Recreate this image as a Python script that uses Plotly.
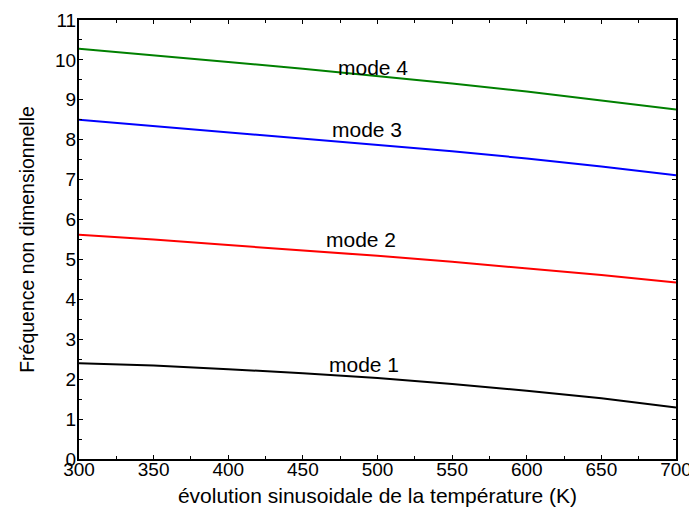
import plotly.graph_objects as go

temperature = [300, 350, 400, 450, 500, 550, 600, 650, 700]
mode1 = [2.40, 2.34, 2.25, 2.15, 2.03, 1.88, 1.71, 1.52, 1.29]
mode2 = [5.62, 5.50, 5.36, 5.23, 5.09, 4.94, 4.78, 4.61, 4.42]
mode3 = [8.50, 8.34, 8.18, 8.02, 7.87, 7.71, 7.53, 7.33, 7.11]
mode4 = [10.28, 10.12, 9.95, 9.78, 9.60, 9.41, 9.21, 8.99, 8.76]

x_ticks = [300, 350, 400, 450, 500, 550, 600, 650, 700]
y_ticks = [0, 1, 2, 3, 4, 5, 6, 7, 8, 9, 10, 11]

series_names = ["mode 1", "mode 2", "mode 3", "mode 4"]
series_colors = ["#000000", "#ff0000", "#0000ff", "#008000"]
label_x = [491, 489, 493, 497]
label_y = [2.38, 5.50, 8.25, 9.81]

FONT = "Liberation Sans, Arial"

fig = go.Figure()
for name, vals, col in zip(series_names, [mode1, mode2, mode3, mode4], series_colors):
    fig.add_trace(go.Scatter(x=temperature, y=vals, mode="lines", name=name,
                             line=dict(color=col, width=2), showlegend=False,
                             cliponaxis=False))

for name, lx, ly in zip(series_names, label_x, label_y):
    fig.add_annotation(x=lx, y=ly, text=name, showarrow=False,
                       font=dict(size=21, color="black", family=FONT))

axis_common = dict(showline=True, linecolor="black", linewidth=2, mirror="ticks",
                   ticks="inside", ticklen=4, tickwidth=1, tickcolor="black",
                   showgrid=False, zeroline=False, automargin=False,
                   ticklabeloverflow="allow",
                   tickfont=dict(size=19, color="black", family=FONT))

fig.update_layout(
    width=689, height=508,
    margin=dict(l=79, r=13, t=20, b=49),
    plot_bgcolor="white", paper_bgcolor="white",
    font=dict(family=FONT, color="black"),
    xaxis=dict(range=[300, 700], tickmode="array", tickvals=x_ticks,
               ticktext=[str(v) for v in x_ticks], ticklabelstandoff=-8,
               minor=dict(dtick=25, tick0=300, ticks="inside", ticklen=3, tickcolor="black"),
               title=dict(text="évolution sinusoidale de la température (K)",
                          font=dict(size=21), standoff=10),
               **axis_common),
    yaxis=dict(range=[0, 11], tickmode="array", tickvals=y_ticks,
               ticktext=[str(v) for v in y_ticks], ticklabelstandoff=-3,
               minor=dict(dtick=0.5, tick0=0, ticks="inside", ticklen=3, tickcolor="black"),
               title=dict(text="Fréquence non dimensionnelle",
                          font=dict(size=19.5), standoff=15),
               **axis_common),
)

fig.write_html("out.html")
